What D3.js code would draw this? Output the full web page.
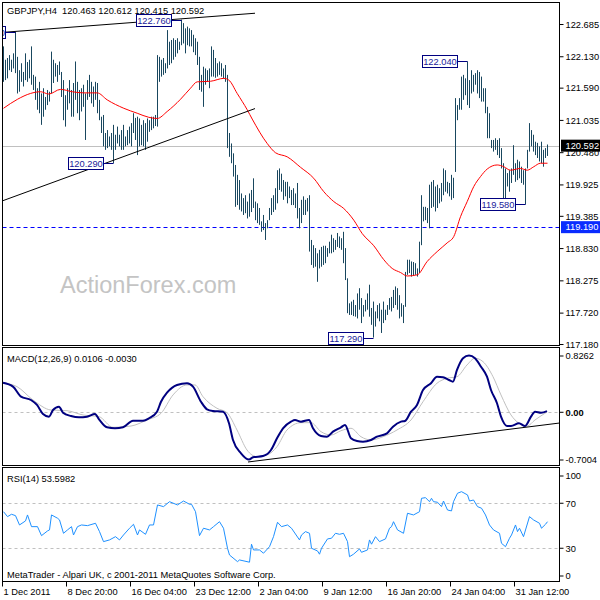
<!DOCTYPE html>
<html><head><meta charset="utf-8">
<script src="https://cdn.jsdelivr.net/npm/d3@7"></script>
<style>
body{margin:0;background:#fff}
svg text{font-family:"Liberation Sans",Arial,sans-serif;font-size:9.3px;fill:#000}
</style></head>
<body><svg id="c" width="600" height="600"></svg>
<script>
// ---------------- DATA ----------------
const symbolTitle = "GBPJPY,H4  120.463 120.612 120.415 120.592";
const macdTitle = "MACD(12,26,9) 0.0106 -0.0030";
const rsiTitle = "RSI(14) 53.5982";
const copyright = "MetaTrader - Alpari UK, c 2001-2011 MetaQuotes Software Corp.";
const watermark = "ActionForex.com";

const highs = [
122.30,122.07,122.10,122.15,122.07,122.18,122.55,122.12,121.89,122.01,
121.86,122.18,122.03,122.07,122.30,121.81,121.78,121.58,121.69,121.49,
121.58,121.43,121.55,121.52,122.21,122.07,122.01,121.98,122.04,121.86,
121.72,121.46,121.58,121.72,121.55,121.67,122.04,121.69,121.55,121.58,
121.64,121.49,121.72,121.81,121.69,121.61,121.69,121.67,121.38,121.09,
121.12,120.81,120.86,120.75,120.81,120.95,120.78,120.92,120.78,120.86,
120.95,120.75,120.86,120.92,120.98,121.15,121.07,121.09,121.06,120.95,
121.03,120.98,121.06,121.03,121.09,121.09,121.12,122.15,122.12,122.07,
122.10,122.01,122.58,122.38,122.41,122.44,122.41,122.44,122.38,122.76,
122.70,122.61,122.64,122.61,122.58,122.50,122.44,122.38,122.12,121.81,
121.95,121.92,121.89,121.92,122.30,122.24,122.10,122.01,122.04,122.01,
121.92,121.98,121.81,120.81,120.63,120.46,120.26,120.09,120.00,119.77,
119.69,119.74,119.63,119.77,119.83,120.03,119.63,119.60,119.52,119.29,
119.40,119.26,119.31,119.52,119.69,119.74,119.86,120.17,120.20,120.11,
120.00,119.97,119.97,119.89,119.83,119.86,119.77,119.95,119.52,119.66,
119.72,119.66,119.69,119.74,118.97,118.88,118.83,118.74,118.80,118.85,
118.87,118.87,118.83,118.94,119.06,119.00,118.97,119.09,119.03,119.00,
119.11,118.83,118.31,117.88,117.91,117.94,117.85,118.05,118.14,117.97,
117.85,117.94,118.05,118.20,117.80,117.91,117.74,117.85,117.88,117.77,
117.91,117.77,117.85,117.97,117.99,118.11,118.17,118.14,118.02,117.88,
117.85,118.42,118.63,118.63,118.60,118.59,118.57,118.48,118.94,119.74,
119.54,119.54,119.52,119.92,119.97,120.00,119.89,119.92,119.86,119.95,
120.20,120.17,119.97,119.95,120.09,120.04,121.41,121.29,121.41,121.78,
121.81,121.75,122.04,121.72,121.89,121.81,121.84,121.89,121.86,121.78,
121.58,121.58,121.26,121.15,120.69,120.69,120.72,120.69,120.72,120.55,
120.29,120.20,120.12,120.17,120.20,120.60,120.29,120.35,120.32,120.23,
120.17,120.20,120.52,120.98,120.86,120.78,120.66,120.64,120.58,120.66,
120.52,120.55,120.612];

const lows = [
121.69,121.72,121.75,121.89,121.86,121.92,121.84,121.49,121.52,121.69,
121.61,121.72,121.69,121.75,121.64,121.55,121.38,121.21,121.15,120.95,
121.09,121.21,121.29,121.35,121.49,121.67,121.78,121.69,121.81,121.43,
121.03,120.92,121.21,121.32,121.09,121.09,121.38,121.15,121.03,121.18,
121.26,120.69,121.38,121.43,121.32,121.26,121.38,121.15,121.03,120.81,
120.58,120.52,120.55,120.58,120.52,120.29,120.52,120.63,120.58,120.52,
120.52,120.58,120.60,120.63,120.58,120.81,120.69,120.43,120.58,120.60,
120.58,120.52,120.66,120.83,120.86,120.89,120.93,120.92,121.69,121.78,
121.81,121.84,121.92,121.98,122.01,122.07,122.12,122.18,122.24,122.32,
122.35,122.18,122.32,122.30,122.30,122.20,122.15,121.98,121.55,121.52,
121.26,121.64,121.69,121.58,121.78,121.78,121.76,121.78,121.81,121.78,
121.75,121.69,120.55,120.40,120.29,120.06,119.54,119.57,119.49,119.46,
119.40,119.43,119.34,119.37,119.45,119.52,119.31,119.26,119.23,119.11,
119.14,118.97,119.17,119.31,119.40,119.45,119.49,119.60,119.83,119.80,
119.66,119.72,119.60,119.69,119.57,119.57,119.52,119.34,119.17,119.26,
119.40,119.40,119.46,118.77,118.54,118.49,118.51,118.25,118.48,118.51,
118.54,118.57,118.68,118.74,118.74,118.76,118.80,118.85,118.83,118.80,
118.57,118.28,117.71,117.68,117.68,117.66,117.65,117.62,117.77,117.54,
117.65,117.74,117.77,117.65,117.51,117.29,117.48,117.62,117.57,117.37,
117.54,117.59,117.68,117.77,117.74,117.80,117.85,117.77,117.62,117.65,
117.54,117.82,118.37,118.40,118.34,118.35,118.37,118.34,118.40,118.88,
119.29,119.31,119.26,119.17,119.52,119.54,119.46,119.52,119.60,119.63,
119.74,119.80,119.77,119.72,119.66,119.69,120.14,121.03,121.21,121.21,
121.38,121.46,121.29,121.24,121.49,121.52,121.64,121.49,121.41,121.35,
121.35,121.15,120.72,120.72,120.55,120.49,120.52,120.43,120.38,120.20,
119.69,119.63,119.89,119.80,119.95,120.09,119.97,120.00,120.03,119.95,
119.92,119.58,120.20,120.49,120.58,120.49,120.43,120.38,120.32,120.29,
120.23,120.38,120.415];

// moving average (red) sampled at bar indices
const maIdx = [0,7,13.5,18.5,22.65,28.5,34.35,40.15,46.85,51.85,60.15,66.85,72.65,76.85,81.85,88.5,93.5,96.85,103.5,110.15,112.65,116.85,121.85,124.35,131.85,136,141.85,148.5,155.15,160.15,165.15,170.15,175.15,179.35,185.15,190.15,194.35,198.5,201.85,206.85,211.85,216.85,221.85,225.15,228.5,231.85,235.15,238.5,241.85,246.85,250.15,253.5,258.5,261.85,265.15,268.5,272];
const maVal = [121.235,121.39,121.49,121.52,121.48,121.56,121.52,121.50,121.50,121.38,121.235,121.15,121.08,121.06,121.18,121.39,121.58,121.69,121.70,121.75,121.72,121.49,121.21,121.05,120.63,120.47,120.40,120.22,120.03,119.80,119.63,119.51,119.31,119.08,118.87,118.63,118.48,118.41,118.35,118.37,118.60,118.77,118.92,119.03,119.37,119.63,119.89,120.06,120.19,120.26,120.23,120.17,120.20,120.17,120.23,120.29,120.29];

const macdIdx = [0,5,9,14,17,20,23,25,28,30,34,38,42,46,48,52,56,60,65,70,73,77,79,82,87,92,95,99,102,105,110,113,115,119,123,125,130,134,137,140,144,146,149,153,155,159,162,165,169,171,174,177,180,184,187,192,195,199,201,204,207,210,214,217,220,223,225,227,230,233,236,239,242,244,247,249,252,254,258,261,264,266,269,272];
const macdVal = [0.427,0.369,0.222,0.173,0.100,-0.032,-0.072,0.026,0.075,-0.013,-0.062,-0.081,-0.072,-0.032,-0.110,-0.228,-0.242,-0.228,-0.131,-0.131,-0.095,0.001,0.148,0.280,0.394,0.419,0.369,0.148,0.037,0.012,0.001,-0.169,-0.414,-0.609,-0.7004,-0.668,-0.649,-0.561,-0.389,-0.242,-0.145,-0.120,-0.145,-0.120,-0.242,-0.355,-0.366,-0.292,-0.228,-0.194,-0.389,-0.429,-0.439,-0.414,-0.366,-0.316,-0.219,-0.145,-0.135,0.001,0.100,0.320,0.419,0.515,0.507,0.467,0.442,0.614,0.786,0.8262,0.786,0.662,0.515,0.320,0.125,-0.072,-0.209,-0.209,-0.169,-0.209,-0.072,0.001,-0.013,0.0106];

const signalIdx = [0,7,15,24,32,40,48,55,64,72,79,85,92,96,100,107,112,117,122,127,132,137,142,149,154,159,164,169,174,179,184,190,197,204,210,217,222,227,232,236,240,245,249,254,258,262,266,272];
const signalVal = [0.423,0.369,0.173,0.026,0.016,-0.047,-0.072,-0.228,-0.209,-0.120,-0.022,0.247,0.394,0.394,0.222,0.051,-0.013,-0.267,-0.561,-0.659,-0.634,-0.512,-0.267,-0.160,-0.160,-0.292,-0.341,-0.278,-0.242,-0.366,-0.414,-0.366,-0.267,-0.120,0.148,0.419,0.492,0.515,0.687,0.786,0.736,0.515,0.247,-0.047,-0.169,-0.209,-0.120,-0.003];

const rsiIdx = [0,2,4,6,8,11,12,14,17,19,22,23,24,27,28,30,32,34,35,37,39,42,46,48,50,53,56,58,60,63,65,67,68,71,73,75,77,80,83,87,90,93,94,96,98,100,103,105,108,110,112,113,117,118,123,124,125,128,130,133,135,137,139,142,144,148,149,151,153,154,157,158,159,162,164,166,168,170,172,173,175,178,179,182,183,184,186,188,191,193,194,195,197,200,202,205,208,209,211,213,214,215,217,219,220,222,224,225,227,229,232,233,235,237,239,241,243,245,248,249,251,253,254,256,257,258,260,263,265,268,269,271,272];
const rsiVal = [62.5,58.1,60.2,59.0,50.7,54.3,59.6,49.2,49.2,41.2,45.4,46.3,59.6,56.7,55.2,43.3,46.3,49.2,41.8,49.2,50.7,50.1,52.2,44.8,35.9,37.4,40.3,37.4,41.8,47.8,51.3,41.8,46.3,42.4,50.7,50.7,68.5,67.0,71.4,68.5,72.0,69.1,69.1,62.5,41.2,47.8,46.3,49.2,53.6,47.8,30.0,24.0,18.1,19.6,17.6,33.6,28.5,28.5,25.6,31.4,40.3,53.1,49.2,50.7,47.8,37.4,41.8,44.8,43.3,30.0,27.6,24.7,30.0,38.3,38.9,43.3,42.4,43.3,35.9,22.5,24.7,29.4,26.4,28.5,37.4,33.6,40.3,35.9,38.3,47.8,49.2,53.6,46.3,43.3,61.1,59.6,62.5,74.4,75.0,71.4,74.4,71.4,70.9,67.0,72.0,64.0,63.2,71.4,78.9,80.3,77.4,72.0,72.9,67.0,65.6,59.6,50.7,46.3,43.3,34.4,31.4,38.9,41.8,50.7,44.8,47.8,40.3,58.1,55.2,52.2,47.8,51.3,53.6];

const priceTicks = [122.685,122.130,121.590,121.035,120.480,119.925,119.385,118.830,118.275,117.720,117.180];
const lastClose = 120.592;
const supportLevel = 119.190;
const macdTicks = [0.8262, 0.0, -0.7004];
const macdTickLabels = ["0.8262","0.00","-0.7004"];
const rsiTicks = [100,70,30,0];
const rsiLevels = [70,30];
const timeIdx = [0,32,64,96,128,160,192,224,256];
const timeLabels = ["1 Dec 2011","8 Dec 20:00","16 Dec 04:00","23 Dec 12:00","2 Jan 04:00","9 Jan 12:00","16 Jan 20:00","24 Jan 04:00","31 Jan 12:00"];
// high / low annotations
const annIdx = [6,89,55,185,232,261];
const annPrice = [122.550,122.760,120.290,117.290,122.040,119.580];
// trend lines [idx, value]
const upperTrend = [[-0.5,122.54],[126,122.87]];
const lowerTrend = [[-0.5,119.64],[126,121.23]];
const macdTrend = [[122.5,-0.737],[278.5,-0.164]];

// ---------------- CHART ----------------
const svg = d3.select("#c");
const L = 2.5, R = 559.5;
const P1 = {t:2.5, b:345.5}, P2 = {t:347.5, b:465.5}, P3 = {t:467.5, b:581.5};

const x = d3.scaleLinear().domain([0, 272]).range([3, 547]);
const y = d3.scaleLinear().domain([117.18, 122.685]).range([344, 24]);
const yM = d3.scaleLinear().domain([-0.7004, 0.8262]).range([459.5, 355.5]);
const yR = d3.scaleLinear().domain([0, 100]).range([582, 469.5]);

const defs = svg.append("defs");
[["c1",P1],["c2",P2],["c3",P3]].forEach(([id,p])=>{
  defs.append("clipPath").attr("id",id).append("rect")
    .attr("x",L).attr("y",p.t).attr("width",R-L).attr("height",p.b-p.t);
});

// ---- main panel ----
const g1 = svg.append("g").attr("clip-path","url(#c1)");
g1.append("text").attr("x",60).attr("y",293).text(watermark)
  .style("font-size","23.5px").style("fill","#c4c4c4");

g1.append("line").attr("x1",L).attr("x2",R)
  .attr("y1",Math.round(y(lastClose))+0.5).attr("y2",Math.round(y(lastClose))+0.5)
  .attr("stroke","#c0c0c0");
g1.append("line").attr("x1",L).attr("x2",R)
  .attr("y1",Math.round(y(supportLevel))+0.5).attr("y2",Math.round(y(supportLevel))+0.5)
  .attr("stroke","#0000ff").attr("stroke-dasharray","4,3");

g1.append("g").selectAll("line").data(highs).join("line")
  .attr("x1",(d,i)=>x(i)+0.5).attr("x2",(d,i)=>x(i)+0.5)
  .attr("y1",d=>y(d)).attr("y2",(d,i)=>Math.max(y(lows[i]), y(d)+1))
  .attr("stroke","#19475f").attr("stroke-width",1);

const maPts = maIdx.map((d,i)=>[d, maVal[i]]);
g1.append("path").datum(maPts)
  .attr("d", d3.line().x(d=>x(d[0])+0.5).y(d=>y(d[1])).curve(d3.curveMonotoneX))
  .attr("fill","none").attr("stroke","#ff0000").attr("stroke-width",1);

[upperTrend, lowerTrend].forEach(t=>{
  g1.append("line").attr("x1",x(t[0][0])).attr("y1",y(t[0][1]))
    .attr("x2",x(t[1][0])).attr("y2",y(t[1][1])).attr("stroke","#000").attr("stroke-width",1);
});

annIdx.forEach((ai,k)=>{
  const bx = x(ai)+0.5, by = Math.round(y(annPrice[k]))+0.5;
  g1.append("line").attr("x1",bx-10).attr("x2",bx).attr("y1",by).attr("y2",by).attr("stroke","#000080");
  g1.append("rect").attr("x",bx-45).attr("y",by-6).attr("width",35).attr("height",12)
    .attr("fill","#fff").attr("stroke","#000080");
  g1.append("text").attr("x",bx-27.5).attr("y",by).attr("dy","0.35em").attr("text-anchor","middle")
    .style("fill","#1a1a9a").text(d3.format(".3f")(annPrice[k]));
});

svg.append("text").attr("x",7).attr("y",13.5).attr("xml:space","preserve").style("white-space","pre").text(symbolTitle);

// price axis
const ax1 = svg.append("g").attr("transform",`translate(${R},0)`)
  .call(d3.axisRight(y).tickValues(priceTicks).tickSize(4).tickPadding(2).tickFormat(d3.format(".3f")));
ax1.select(".domain").remove();
ax1.selectAll("text").attr("font-family",null).attr("font-size",null).attr("dy","0.35em");

function priceTag(v, bg){
  const yy = y(v);
  svg.append("rect").attr("x",561).attr("y",yy-6).attr("width",39).attr("height",12).attr("fill",bg);
  svg.append("text").attr("x",565.5).attr("y",yy).attr("dy","0.35em").style("fill","#fff").text(d3.format(".3f")(v));
}
priceTag(lastClose, "#000");
priceTag(supportLevel, "#0a2cff");

// ---- MACD panel ----
const g2 = svg.append("g").attr("clip-path","url(#c2)");
g2.append("line").attr("x1",L).attr("x2",R).attr("y1",Math.round(yM(0))+0.5).attr("y2",Math.round(yM(0))+0.5)
  .attr("stroke","#c0c0c0").attr("stroke-dasharray","3,3");
g2.append("path").datum(signalIdx.map((d,i)=>[d,signalVal[i]]))
  .attr("d", d3.line().x(d=>x(d[0])).y(d=>yM(d[1])).curve(d3.curveMonotoneX))
  .attr("fill","none").attr("stroke","#c0c0c0").attr("stroke-width",1);
g2.append("path").datum(macdIdx.map((d,i)=>[d,macdVal[i]]))
  .attr("d", d3.line().x(d=>x(d[0])).y(d=>yM(d[1])).curve(d3.curveMonotoneX))
  .attr("fill","none").attr("stroke","#000080").attr("stroke-width",2);
g2.append("line").attr("x1",x(macdTrend[0][0])).attr("y1",yM(macdTrend[0][1]))
  .attr("x2",x(macdTrend[1][0])).attr("y2",yM(macdTrend[1][1])).attr("stroke","#000");
svg.append("text").attr("x",7).attr("y",361.5).text(macdTitle);
const ax2 = svg.append("g").attr("transform",`translate(${R},0)`)
  .call(d3.axisRight(yM).tickValues(macdTicks).tickSize(4).tickPadding(2).tickFormat((d,i)=>macdTickLabels[i]));
ax2.select(".domain").remove();
ax2.selectAll("text").attr("font-family",null).attr("font-size",null).attr("dy","0.35em")
  .style("font-weight",(d)=>d===0?"bold":null);

// ---- RSI panel ----
const g3 = svg.append("g").attr("clip-path","url(#c3)");
rsiLevels.forEach(v=>{
  g3.append("line").attr("x1",L).attr("x2",R).attr("y1",Math.round(yR(v))+0.5).attr("y2",Math.round(yR(v))+0.5)
    .attr("stroke","#c0c0c0").attr("stroke-dasharray","3,3");
});
g3.append("path").datum(rsiIdx.map((d,i)=>[d,rsiVal[i]]))
  .attr("d", d3.line().x(d=>x(d[0])+0.5).y(d=>yR(d[1])))
  .attr("fill","none").attr("stroke","#1e90ff").attr("stroke-width",1);
svg.append("text").attr("x",7).attr("y",482).text(rsiTitle);
svg.append("text").attr("x",7).attr("y",578).text(copyright);
const ax3 = svg.append("g").attr("transform",`translate(${R},0)`)
  .call(d3.axisRight(yR).tickValues(rsiTicks).tickSize(4).tickPadding(2));
ax3.select(".domain").remove();
ax3.selectAll(".tick").attr("transform", d=>`translate(0,${Math.min(Math.max(yR(d),476),576)})`);
ax3.selectAll("text").attr("font-family",null).attr("font-size",null).attr("dy","0.35em");

// time axis
const axT = svg.append("g").attr("transform",`translate(0,${P3.b})`)
  .call(d3.axisBottom(x).tickValues(timeIdx).tickSize(5).tickPadding(2).tickFormat((d,i)=>timeLabels[i]));
axT.select(".domain").remove();
axT.selectAll(".tick").attr("transform", d=>`translate(${x(d)-0.5},0)`);
axT.selectAll("text").attr("font-family",null).attr("font-size",null).attr("text-anchor","start").attr("x",1);

// panel borders
[P1,P2,P3].forEach(p=>{
  svg.append("rect").attr("x",L).attr("y",p.t).attr("width",R-L).attr("height",p.b-p.t)
    .attr("fill","none").attr("stroke","#000").attr("stroke-width",1);
});
</script>
</body></html>
